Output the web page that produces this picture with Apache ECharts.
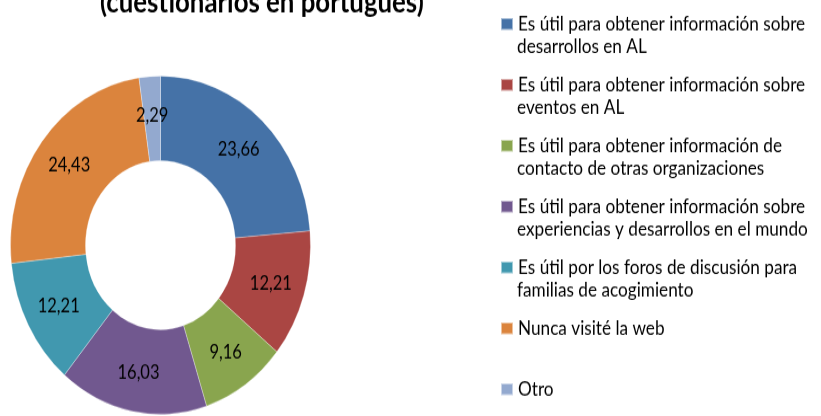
<!DOCTYPE html>
<html>
<head>
<meta charset="utf-8">
<script src="https://cdn.jsdelivr.net/npm/echarts@6/dist/echarts.min.js"></script>
<style>
  body { margin: 0; background: #fff; overflow: hidden; }
  /* el gráfico original está estirado en vertical (la dona es una elipse) */
  #main { position: absolute; left: 0; top: 0; width: 821px; height: 369px;
          transform: scaleY(1.1274); transform-origin: 0 0; }
</style>
</head>
<body>
<div id="main"></div>
<script>
const titleText = '(cuestionarios en portugués)';
const legendLine1 = [
  'Es útil para obtener información sobre',
  'Es útil para obtener información sobre',
  'Es útil para obtener información de',
  'Es útil para obtener información sobre',
  'Es útil por los foros de discusión para',
  'Nunca visité la web',
  'Otro'
];
const legendLine2 = [
  'desarrollos en AL',
  'eventos en AL',
  'contacto de otras organizaciones',
  'experiencias y desarrollos en el mundo',
  'familias de acogimiento',
  '',
  ''
];
const values = [23.66, 12.21, 9.16, 16.03, 12.21, 24.43, 2.29];
const colors = ['#4572A7', '#AA4643', '#89A54E', '#71588F', '#4198AF', '#DB843D', '#93A9CF'];

const names = legendLine1.map((l, i) => (l + ' ' + legendLine2[i]).trim());
const firstLine = {};
names.forEach((n, i) => { firstLine[n] = legendLine1[i]; });

const font = 'Lato';
const legendTop = 21.3;   // centro del primer elemento
const legendStep = 54;

const chart = echarts.init(document.getElementById('main'));
chart.setOption({
  animation: false,
  color: colors,
  // el título original queda cortado por arriba
  graphic: [{
    type: 'text',
    x: 100,
    y: 2.4,
    silent: true,
    style: { text: titleText, fill: '#000', font: 'bold 25.8px ' + font, verticalAlign: 'middle' }
  }].concat(legendLine2.map((t, i) => ({
    type: 'text',
    x: 517,
    y: legendTop + i * legendStep + 20.4,
    silent: true,
    style: { text: t, fill: '#000', font: '17.2px ' + font, verticalAlign: 'middle' }
  }))),
  legend: {
    orient: 'vertical',
    left: 500,
    top: legendTop - 10,
    padding: 0,
    itemWidth: 12,
    itemHeight: 10.5,
    itemGap: legendStep - 20,
    icon: 'rect',
    data: names,
    formatter: name => firstLine[name],
    textStyle: { fontFamily: font, fontSize: 17.2, lineHeight: 20, color: '#000' }
  },
  series: [{
    type: 'pie',
    radius: [75, 150],
    center: [160.5, 217.4],
    startAngle: 90,
    clockwise: true,
    itemStyle: { borderColor: 'rgba(255,255,255,0.5)', borderWidth: 0.6 },
    label: {
      show: true,
      position: 'inside',
      formatter: p => p.value.toFixed(2).replace('.', ','),
      fontFamily: font,
      fontSize: 16.5,
      color: '#000'
    },
    labelLine: { show: false },
    data: names.map((n, i) => ({ name: n, value: values[i] }))
  }]
});
</script>
</body>
</html>
